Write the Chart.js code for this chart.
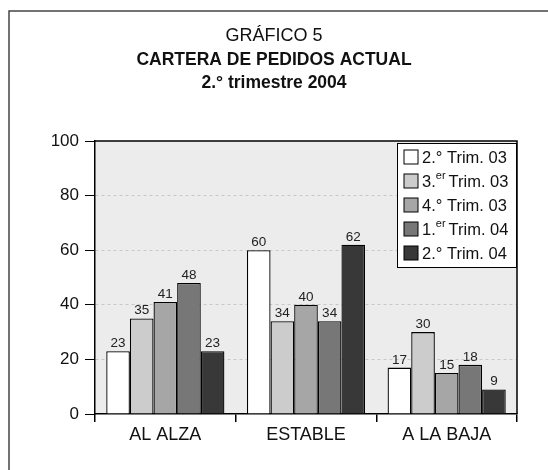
<!DOCTYPE html>
<html>
<head>
<meta charset="utf-8">
<script src="https://cdn.jsdelivr.net/npm/chart.js@4"></script>
<style>
  html, body { margin: 0; padding: 0; background: #fff; }
  #caja { width: 548px; height: 470px; }
</style>
</head>
<body>
<div id="caja"><canvas id="grafico"></canvas></div>
<script>
// datos
const categorias = ['AL ALZA', 'ESTABLE', 'A LA BAJA'];
const series = ['2.° Trim. 03', '3.er Trim. 03', '4.° Trim. 03', '1.er Trim. 04', '2.° Trim. 04'];
const trim2_03 = [23, 60, 17];
const trim3_03 = [35, 34, 30];
const trim4_03 = [41, 40, 15];
const trim1_04 = [48, 34, 18];
const trim2_04 = [23, 62, 9];
const ticksY = [0, 20, 40, 60, 80, 100];
const titulo = ['GRÁFICO 5', 'CARTERA DE PEDIDOS ACTUAL', '2.° trimestre 2004'];

const colores = ['#ffffff', '#cccccc', '#a6a6a6', '#777777', '#383838'];
const fuente = "'Liberation Sans', Arial, sans-serif";

const valores = [trim2_03, trim3_03, trim4_03, trim1_04, trim2_04];

// fondo, marco exterior y títulos
const fondo = {
    id: 'fondo',
    beforeDraw(chart) {
        const { ctx, chartArea: a } = chart;
        ctx.save();
        ctx.fillStyle = '#fff';
        ctx.fillRect(0, 0, chart.width, chart.height);

        ctx.strokeStyle = '#444';
        ctx.lineWidth = 1.5;
        ctx.beginPath();
        ctx.moveTo(9, chart.height);
        ctx.lineTo(9, 11);
        ctx.lineTo(chart.width, 11);
        ctx.stroke();

        ctx.fillStyle = '#ececec';
        ctx.fillRect(a.left, a.top, a.right - a.left, a.bottom - a.top);

        ctx.fillStyle = '#111';
        ctx.textAlign = 'center';
        ctx.textBaseline = 'middle';
        ctx.font = '18px ' + fuente;
        ctx.fillText(titulo[0], 274, 36);
        ctx.font = 'bold 17.5px ' + fuente;
        ctx.fillText(titulo[1], 274, 60);
        ctx.fillText(titulo[2], 274, 83);
        ctx.restore();
    }
};

// texto con superíndice "er"
function textoSup(ctx, txt, x, y) {
    const m = txt.match(/^(\d\.)er (.*)$/);
    ctx.font = '16.5px ' + fuente;
    if (!m) { ctx.fillText(txt, x, y); return; }
    ctx.fillText(m[1], x, y);
    x += ctx.measureText(m[1]).width;
    ctx.font = '11px ' + fuente;
    ctx.fillText('er', x, y - 6);
    x += ctx.measureText('er').width + 3;
    ctx.font = '16.5px ' + fuente;
    ctx.fillText(m[2], x, y);
}

// borde superior/derecho, etiquetas de valor y leyenda
const extras = {
    id: 'extras',
    afterDatasetsDraw(chart) {
        const { ctx, chartArea: a } = chart;
        ctx.save();
        ctx.strokeStyle = '#000';
        ctx.lineWidth = 1.5;
        ctx.beginPath();
        ctx.moveTo(a.left, a.top);
        ctx.lineTo(a.right, a.top);
        ctx.lineTo(a.right, a.bottom);
        ctx.stroke();

        // valores sobre las barras
        ctx.fillStyle = '#222';
        ctx.font = '13.5px ' + fuente;
        ctx.textAlign = 'center';
        ctx.textBaseline = 'alphabetic';
        chart.data.datasets.forEach((ds, i) => {
            chart.getDatasetMeta(i).data.forEach((bar, j) => {
                ctx.fillText(ds.data[j], bar.x, bar.y - 4);
            });
        });

        // leyenda
        const lx = a.right - 120, ly = a.top + 2;
        ctx.fillStyle = '#fff';
        ctx.fillRect(lx, ly, 120, 125);
        ctx.lineWidth = 1;
        ctx.strokeStyle = '#000';
        ctx.strokeRect(lx + 0.5, ly + 0.5, 119, 124);
        ctx.textAlign = 'left';
        ctx.textBaseline = 'middle';
        series.forEach((s, i) => {
            const y = ly + 14 + i * 24;
            ctx.fillStyle = colores[i];
            ctx.fillRect(lx + 7, y - 7, 14, 14);
            ctx.strokeStyle = '#000';
            ctx.strokeRect(lx + 7, y - 7, 14, 14);
            ctx.fillStyle = '#111';
            textoSup(ctx, s, lx + 25, y + 1);
        });
        ctx.restore();
    }
};

const grafico = new Chart(document.getElementById('grafico'), {
    type: 'bar',
    data: {
        labels: categorias,
        datasets: series.map((s, i) => ({
            label: s,
            data: valores[i],
            backgroundColor: colores[i],
            borderColor: '#000',
            borderWidth: 1.3,
            categoryPercentage: 0.84,
            barPercentage: 1
        }))
    },
    options: {
        responsive: true,
        maintainAspectRatio: false,
        animation: false,
        devicePixelRatio: 1,
        layout: { padding: { top: 141, right: 31, left: 0, bottom: 0 } },
        plugins: {
            legend: { display: false },
            tooltip: { enabled: false }
        },
        scales: {
            x: {
                afterFit(scale) { scale.height = 56; },
                border: { color: '#000', width: 1.5 },
                grid: {
                    offset: true,
                    drawOnChartArea: false,
                    tickLength: 8,
                    tickColor: '#000',
                    lineWidth: 1.5
                },
                ticks: {
                    color: '#111',
                    padding: 2,
                    font: { family: fuente, size: 18 }
                }
            },
            y: {
                min: 0,
                max: 100,
                afterFit(scale) { scale.width = 95; },
                afterBuildTicks(scale) { scale.ticks = ticksY.map(v => ({ value: v })); },
                border: { color: '#000', width: 1.5, dash: [3, 3] },
                grid: {
                    color: c => (c.tick && (c.tick.value === 0 || c.tick.value === 100)) ? 'rgba(0,0,0,0)' : '#c8c8c8',
                    tickColor: '#000',
                    tickBorderDash: [],
                    tickLength: 10,
                    lineWidth: 1
                },
                ticks: {
                    color: '#111',
                    padding: 6,
                    font: { family: fuente, size: 17 }
                }
            }
        }
    },
    plugins: [fondo, extras]
});
</script>
</body>
</html>
